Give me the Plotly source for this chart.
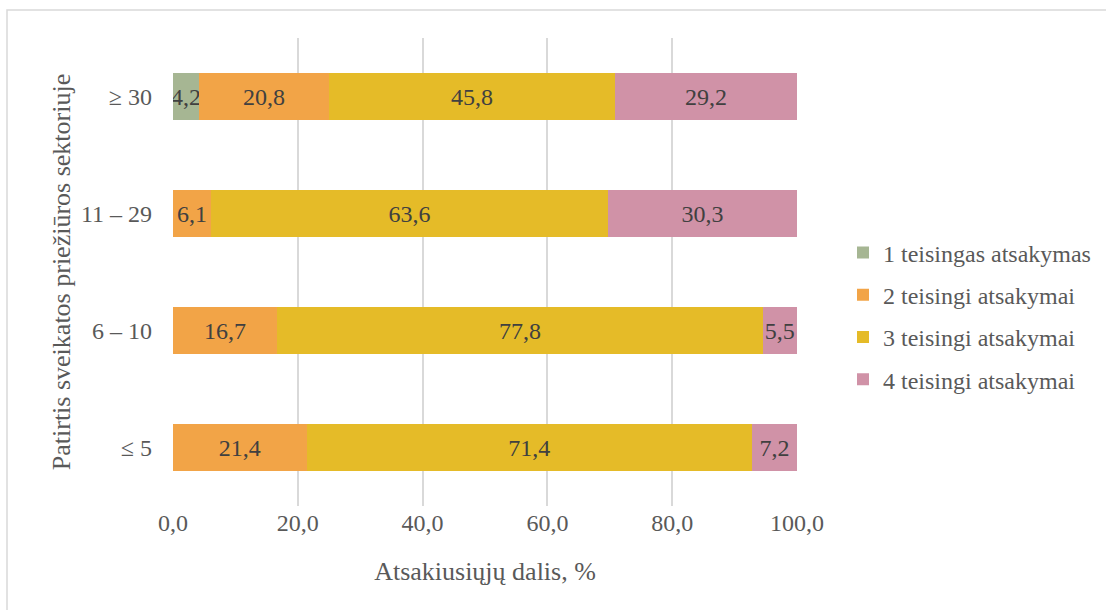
import plotly.graph_objects as go

# Experience groups (bottom to top) and share of respondents by number of correct answers
categories = ["≤ 5", "6 – 10", "11 – 29", "≥ 30"]
series_names = ["1 teisingas atsakymas", "2 teisingi atsakymai",
                "3 teisingi atsakymai", "4 teisingi atsakymai"]
one_correct = [None, None, None, 4.2]
two_correct = [21.4, 16.7, 6.1, 20.8]
three_correct = [71.4, 77.8, 63.6, 45.8]
four_correct = [7.2, 5.5, 30.3, 29.2]
x_ticks = [0, 20, 40, 60, 80, 100]

colors = ["#a6b693", "#f2a447", "#e5bb28", "#d092a7"]
series_values = [one_correct, two_correct, three_correct, four_correct]

FONT = "Times New Roman, Liberation Serif, Tinos, serif"

fig = go.Figure()
for i, (name, vals, col) in enumerate(zip(series_names, series_values, colors)):
    fig.add_trace(go.Bar(
        y=categories, x=vals, name=name, orientation="h",
        marker=dict(color=col, line=dict(width=0)),
        texttemplate="%{x:.1f}", textposition="inside", textangle=0,
        insidetextanchor="middle", constraintext="none",
        textfont=dict(family=FONT, size=24, color="#404040"),
        legendgroup=f"g{i}",
    ))

L, R, T, B = 173, 309, 38, 104
W, H = 1106, 610
pw, ph = W - L - R, H - T - B

fig.update_layout(
    width=W, height=H, barmode="stack", bargap=0.6,
    separators=", ",
    paper_bgcolor="white", plot_bgcolor="white",
    margin=dict(l=L, r=R, t=T, b=B, autoexpand=False),
    font=dict(family=FONT, color="#595959", size=24),
    xaxis=dict(range=[0, 100], tickvals=x_ticks, tickformat=".1f",
               showgrid=True, gridcolor="#d9d9d9", gridwidth=1.5,
               zeroline=False, showline=False, ticks="",
               tickfont=dict(family=FONT, size=24, color="#595959"),
               title=dict(text="Atsakiusiųjų dalis, %",
                          font=dict(family=FONT, size=26, color="#595959"), standoff=26)),
    yaxis=dict(showgrid=False, zeroline=False, showline=False, ticks="",
               tickfont=dict(family=FONT, size=24, color="#595959"), ticklabelstandoff=20,
               title=dict(text="Patirtis sveikatos priežiūros sektoriuje",
                          font=dict(family=FONT, size=26, color="#595959"), standoff=2)),
    legend=dict(x=(843 - L) / pw, y=(H - B - 316) / ph, xanchor="left",
                yanchor="middle", traceorder="grouped", tracegroupgap=8,
                font=dict(family=FONT, size=24, color="#595959"), bgcolor="rgba(0,0,0,0)"),
    showlegend=True,
)

# Light frame around the chart
fig.add_shape(type="rect", xref="paper", yref="paper",
              x0=(7 - L) / pw, x1=(W + 10 - L) / pw,
              y0=(H - B - (H + 10)) / ph, y1=(H - B - 10) / ph,
              line=dict(color="#d9d9d9", width=1.5), fillcolor="rgba(0,0,0,0)",
              layer="below")

fig.write_html("out.html")
